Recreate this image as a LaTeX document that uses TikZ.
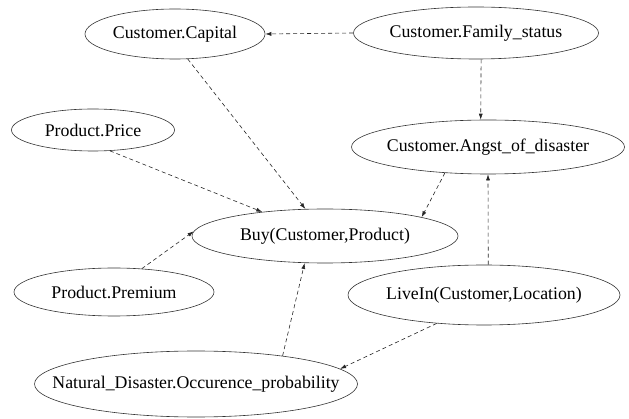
\documentclass[tikz,border=0pt]{standalone}
\usepackage{fontspec}
\setmainfont{Liberation Serif}
\usetikzlibrary{shapes.geometric,arrows.meta}

% label of a variable, kept out of the ellipse size
\newcommand{\vname}[1]{\makebox[0pt]{#1}}

\begin{document}
\begin{tikzpicture}[x=1pt,y=-1pt,
  var/.style={ellipse,draw=black!80,line width=0.6pt,inner sep=0pt,font=\fontsize{17.8}{21}\selectfont},
  dep/.style={draw=black!85,line width=0.6pt,dash pattern=on 4pt off 3pt,-{Latex[length=6pt,width=4pt]}}]
\useasboundingbox (0,0) rectangle (629,419);

%variables
\node[var,minimum width=180,minimum height=50] (cap) at (175,34) {\vname{Customer.Capital}};
\node[var,minimum width=245,minimum height=52] (fam) at (476,33) {\vname{Customer.Family\_status}};
\node[var,minimum width=163,minimum height=42] (price) at (93,130) {\vname{Product.Price}};
\node[var,minimum width=273,minimum height=54] (ang) at (488,147) {\vname{Customer.Angst\_of\_disaster}};
\node[var,minimum width=266,minimum height=54] (buy) at (325,236) {\vname{Buy(Customer,Product)}};
\node[var,minimum width=200,minimum height=48] (prem) at (114,292) {\vname{Product.Premium}};
\node[var,minimum width=272,minimum height=60] (live) at (484,295) {\vname{LiveIn(Customer,Location)}};
\node[var,minimum width=323,minimum height=66] (nat) at (196,384) {\vname{Natural\_Disaster.Occurence\_probability}};

%dependencies
\draw[dep] (fam.180) -- (cap.0);
\draw[dep] (fam.-79.5) -- (ang.105);
\draw[dep] (cap.-63) -- (buy.126.5);
\draw[dep] (price.-51) -- (buy.159.5);
\draw[dep] (ang.211) -- (buy.11);
\draw[dep] (prem.40.6) -- (buy.178);
\draw[dep] (live.82) -- (ang.-90);
\draw[dep] (nat.18.6) -- (buy.233);
\draw[dep] (live.211) -- (nat.6.6);
\end{tikzpicture}
\end{document}
